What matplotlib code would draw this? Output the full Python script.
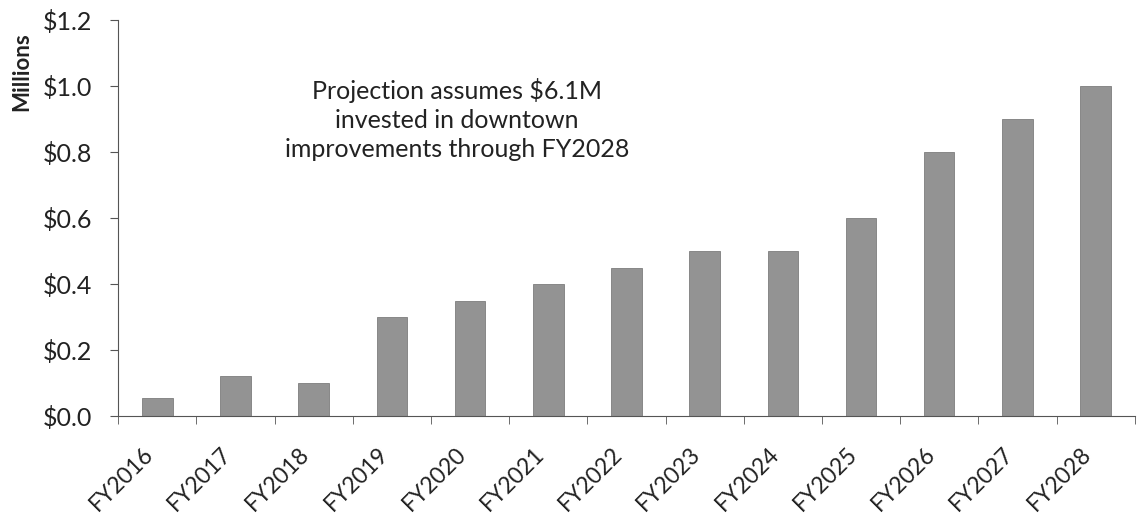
import numpy as np
import matplotlib.pyplot as plt
import matplotlib.transforms as mtransforms
from matplotlib.ticker import FixedLocator, FuncFormatter

plt.rcParams['font.family'] = ['Lato', 'DejaVu Sans']

years = ["FY2016", "FY2017", "FY2018", "FY2019", "FY2020", "FY2021", "FY2022",
         "FY2023", "FY2024", "FY2025", "FY2026", "FY2027", "FY2028"]
revenue_m = [0.055, 0.12, 0.10, 0.30, 0.35, 0.40, 0.45, 0.50, 0.50, 0.60, 0.80, 0.90, 1.00]
note = "Projection assumes $6.1M\ninvested in downtown\nimprovements through FY2028"

fig = plt.figure(figsize=(11.37, 5.18), dpi=100)
ax = fig.add_axes([0.104, 0.197, 0.894, 0.764])

x = np.arange(len(years))
ax.bar(x, revenue_m, width=0.39, color='#939393', edgecolor='#7d7d7d', linewidth=0.6)

ax.set_xlim(-0.5, len(years) - 0.5)
ax.set_ylim(0, 1.2)
ax.set_yticks(np.arange(0, 1.21, 0.2))
ax.yaxis.set_major_formatter(FuncFormatter(lambda v, p: f"${v:.1f}"))

# category labels centred, tick marks on the boundaries
ax.set_xticks(x)
ax.set_xticklabels(years, rotation=45, ha='right', va='top')
shift = mtransforms.ScaledTranslation(7 / 100, 0, fig.dpi_scale_trans)
for lbl in ax.get_xticklabels():
    lbl.set_transform(lbl.get_transform() + shift)
ax.xaxis.set_minor_locator(FixedLocator(np.arange(-0.5, len(years), 1.0)))
ax.tick_params(axis='x', which='major', length=0, pad=20, labelsize=16.5, labelcolor='#222222')
ax.tick_params(axis='x', which='minor', length=6, color='#555555', direction='out')
ax.tick_params(axis='y', length=6, color='#555555', labelsize=18, labelcolor='#222222', pad=13)

for side in ['top', 'right']:
    ax.spines[side].set_visible(False)
ax.spines['left'].set_color('#555555')
ax.spines['bottom'].set_color('#555555')

fig.text(0.019, 0.862, "Millions", rotation=90, fontsize=16, fontweight='bold',
         ha='center', va='center', color='#222222')

ax.text(0.333, 0.75, note, transform=ax.transAxes, ha='center', va='center',
        fontsize=18, linespacing=1.32, color='#222222')

fig.savefig("out.png", dpi=100)
